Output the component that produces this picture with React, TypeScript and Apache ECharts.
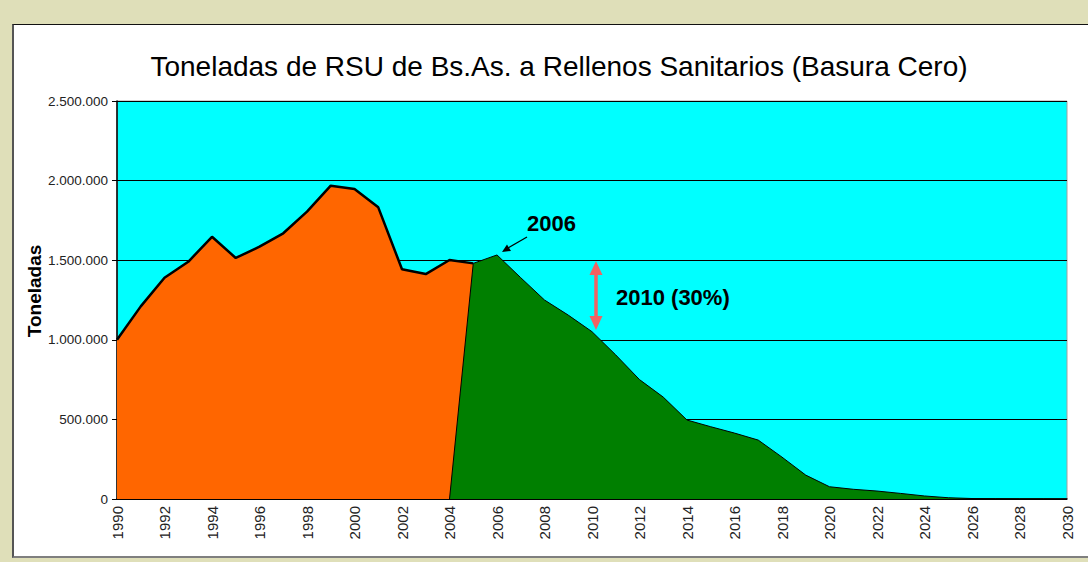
import React, { useEffect, useRef } from "react";
import * as echarts from "echarts";

const years = [
  "1990", "1991", "1992", "1993", "1994", "1995", "1996", "1997", "1998", "1999",
  "2000", "2001", "2002", "2003", "2004", "2005", "2006", "2007", "2008", "2009",
  "2010", "2011", "2012", "2013", "2014", "2015", "2016", "2017", "2018", "2019",
  "2020", "2021", "2022", "2023", "2024", "2025", "2026", "2027", "2028", "2029", "2030",
];

// Historical tonnage 1990–2005
const historico = [
  1000000, 1210000, 1390000, 1490000, 1647000, 1514000, 1585000, 1669000,
  1805000, 1968000, 1947000, 1832000, 1443000, 1413000, 1501000, 1480000,
];

// Basura Cero projection 2004–2030
const basuraCero = [
  0, 1480000, 1533000, 1390000, 1250000, 1155000, 1051000, 905000, 750000,
  640000, 496000, 454000, 414000, 370000, 263000, 150000, 77000, 61000, 50000,
  35000, 19000, 8000, 3000, 2000, 1000, 1000, 0,
];

const yTicks = [0, 500000, 1000000, 1500000, 2000000, 2500000];

const FONT = "'Liberation Sans', Arial, sans-serif";

function fmt(v: number): string {
  return String(Math.round(v)).replace(/\B(?=(\d{3})+(?!\d))/g, ".");
}

export default function App() {
  const ref = useRef<HTMLDivElement>(null);

  useEffect(() => {
    document.body.style.margin = "0";
    document.body.style.overflow = "hidden";
    if (!ref.current) return;
    const chart = echarts.init(ref.current, null, { renderer: "svg" });

    const orangeData = years.map((_, i) => (i < historico.length ? historico[i] : null));
    const greenStart = years.indexOf("2004");
    const greenData = years.map((_, i) =>
      i >= greenStart && i - greenStart < basuraCero.length ? basuraCero[i - greenStart] : null
    );

    chart.setOption({
      animation: false,
      backgroundColor: "transparent",
      title: {
        text: "Toneladas de RSU de Bs.As. a Rellenos Sanitarios (Basura Cero)",
        left: 554,
        top: 47,
        textAlign: "center",
        textStyle: { fontFamily: FONT, fontSize: 28, fontWeight: "normal", color: "#000" },
      },
      grid: {
        left: 117,
        right: 21,
        top: 101,
        bottom: 63,
        show: true,
        backgroundColor: "#00FFFF",
        borderColor: "#a0a0a0",
        borderWidth: 1,
      },
      xAxis: {
        type: "category",
        data: years,
        boundaryGap: false,
        axisLine: { show: true, lineStyle: { color: "#000", width: 1.5 } },
        axisTick: { show: false },
        axisLabel: {
          interval: 1,
          rotate: 90,
          margin: 7,
          fontFamily: FONT,
          fontSize: 15,
          color: "#222",
        },
        splitLine: { show: false },
      },
      yAxis: {
        type: "value",
        min: yTicks[0],
        max: yTicks[yTicks.length - 1],
        interval: yTicks[1] - yTicks[0],
        axisLine: { show: true, lineStyle: { color: "#000", width: 1.5 } },
        axisTick: { show: true, length: 5, lineStyle: { color: "#000" } },
        axisLabel: {
          margin: 9,
          fontFamily: FONT,
          fontSize: 13.5,
          color: "#222",
          formatter: (v: number) => fmt(v),
        },
        splitLine: { show: true, lineStyle: { color: "#000", width: 1 } },
      },
      series: [
        {
          name: "Histórico",
          type: "line",
          data: orangeData,
          showSymbol: false,
          symbol: "none",
          connectNulls: false,
          lineStyle: { color: "#000", width: 2.5 },
          areaStyle: { color: "#FF6600", opacity: 1 },
          z: 2,
        },
        {
          name: "Basura Cero",
          type: "line",
          data: greenData,
          showSymbol: false,
          symbol: "none",
          connectNulls: false,
          lineStyle: { color: "#000", width: 1 },
          areaStyle: { color: "#007F00", opacity: 1 },
          z: 3,
        },
      ],
      graphic: [
        {
          type: "text",
          x: 34,
          y: 291,
          rotation: Math.PI / 2,
          style: {
            text: "Toneladas",
            font: `bold 19px ${FONT}`,
            fill: "#000",
            align: "center",
            verticalAlign: "middle",
          },
          z: 10,
        },
        {
          type: "text",
          left: 527,
          top: 212,
          style: { text: "2006", font: `bold 22px ${FONT}`, fill: "#000" },
          z: 10,
        },
        {
          type: "line",
          shape: { x1: 527, y1: 237, x2: 508, y2: 248 },
          style: { stroke: "#000", lineWidth: 1.2 },
          z: 10,
        },
        {
          type: "polygon",
          shape: { points: [[502, 252], [507, 244.5], [511, 251]] },
          style: { fill: "#000" },
          z: 10,
        },
        {
          type: "line",
          shape: { x1: 596, y1: 271, x2: 596, y2: 320 },
          style: { stroke: "#F06262", lineWidth: 3.5 },
          z: 10,
        },
        {
          type: "polygon",
          shape: { points: [[596, 261], [589.5, 275], [602.5, 275]] },
          style: { fill: "#F06262" },
          z: 10,
        },
        {
          type: "polygon",
          shape: { points: [[596, 330], [589.5, 316], [602.5, 316]] },
          style: { fill: "#F06262" },
          z: 10,
        },
        {
          type: "text",
          left: 616,
          top: 286,
          style: { text: "2010 (30%)", font: `bold 22px ${FONT}`, fill: "#000" },
          z: 10,
        },
      ],
    });

    return () => chart.dispose();
  }, []);

  return (
    <div
      style={{
        position: "relative",
        width: 1088,
        height: 562,
        background: "#DFDFB9",
        overflow: "hidden",
      }}
    >
      <div
        style={{
          position: "absolute",
          left: 12,
          top: 24,
          width: 1100,
          height: 531,
          background: "#FFFFFF",
          borderTop: "1.5px solid #111",
          borderLeft: "2px solid #555",
          borderBottom: "2.5px solid #7f7f7f",
        }}
      />
      <div ref={ref} style={{ position: "absolute", left: 0, top: 0, width: 1088, height: 562 }} />
    </div>
  );
}
